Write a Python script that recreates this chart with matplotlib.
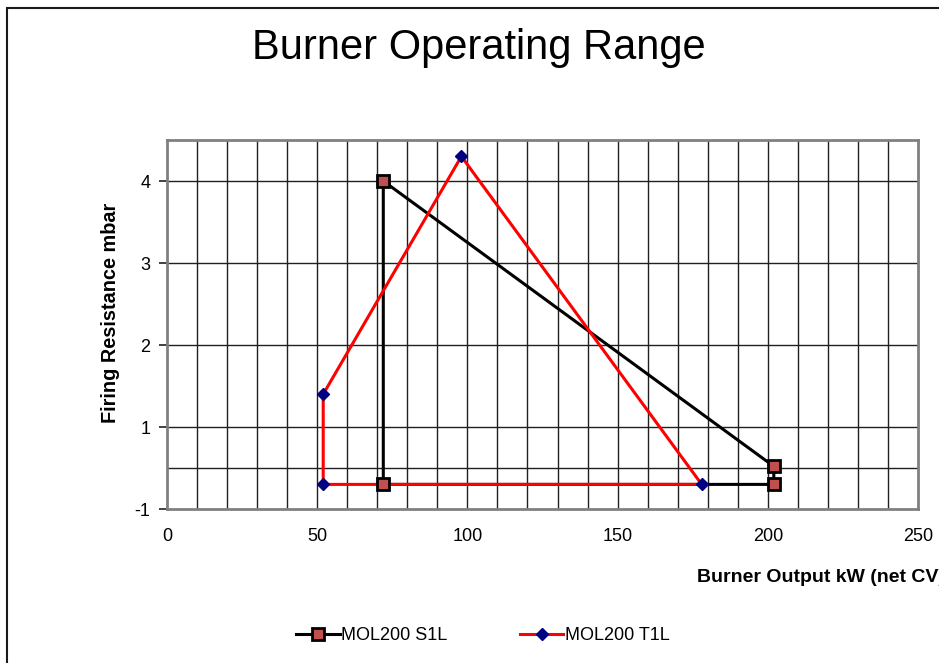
import matplotlib.pyplot as plt
from matplotlib.patches import Rectangle

plt.rcParams['font.family'] = ['Liberation Sans', 'DejaVu Sans']

# MOL200 S1L outline (kW, mbar)
s1l_x = [72, 72, 202, 202, 72]
s1l_y = [4.0, 0.3, 0.3, 0.52, 4.0]

# MOL200 T1L outline
t1l_x = [52, 98, 178, 52, 52]
t1l_y = [1.4, 4.3, 0.3, 0.3, 1.4]

y_ticks = [0, 1, 2, 3, 4]
y_tick_labels = ['-1', '1', '2', '3', '4']
x_ticks = [0, 50, 100, 150, 200, 250]
x_grid = list(range(10, 250, 10))
y_grid = [0.5, 1, 2, 3, 4]

fig = plt.figure(figsize=(9.39, 6.63), dpi=100)
fig.patches.append(Rectangle((7 / 939, -0.01), 1.0, 1 - 8 / 663 + 0.01,
                             transform=fig.transFigure, fill=False,
                             edgecolor='#1a1a1a', linewidth=1.5))

ax = fig.add_axes([167 / 939, 1 - 509 / 663, 751 / 939, 369 / 663])

for gx in x_grid:
    ax.axvline(gx, color='#202020', linewidth=1.0, zorder=1)
for gy in y_grid:
    ax.axhline(gy, color='#202020', linewidth=1.0, zorder=1)

ax.plot(s1l_x, s1l_y, color='black', linewidth=2.2, zorder=2)
ax.plot(t1l_x, t1l_y, color='#ff0000', linewidth=2.2, zorder=3)
ax.plot(s1l_x[:-1], s1l_y[:-1], linestyle='none', marker='s', markersize=8,
        markerfacecolor='#c0504d', markeredgecolor='black', markeredgewidth=2, zorder=4)
ax.plot(t1l_x[:-1], t1l_y[:-1], linestyle='none', marker='D', markersize=6.5,
        markerfacecolor='#000080', markeredgecolor='#000080', zorder=5)

# legend handles
h1, = ax.plot([], [], color='black', linewidth=2.2, marker='s', markersize=8,
              markerfacecolor='#c0504d', markeredgecolor='black', markeredgewidth=2,
              label='MOL200 S1L')
h2, = ax.plot([], [], color='#ff0000', linewidth=2.2, marker='D', markersize=6.5,
              markerfacecolor='#000080', markeredgecolor='#000080',
              label='MOL200 T1L')

ax.set_xlim(0, 250)
ax.set_ylim(0, 4.5)
ax.set_xticks(x_ticks)
ax.set_yticks(y_ticks)
ax.set_yticklabels(y_tick_labels)
ax.tick_params(axis='x', length=0, pad=14, labelsize=13)
ax.tick_params(axis='y', length=6, width=1.2, color='#202020', pad=6, labelsize=13)
for sp in ax.spines.values():
    sp.set_color('#808080')
    sp.set_linewidth(2)

fig.text(110 / 939, 1 - 313 / 663, 'Firing Resistance mbar', fontsize=14.3,
         fontweight='bold', rotation=90, ha='center', va='center')
# the original axis title runs off the right edge of the chart
fig.text(697 / 939, 1 - 578 / 663, 'Burner Output kW (net CV)', fontsize=14,
         fontweight='bold', ha='left', va='center')
fig.text(479 / 939, 1 - 59 / 663, 'Burner Operating Range', fontsize=30,
         ha='center', va='baseline')

fig.legend(handles=[h1, h2], loc='center', bbox_to_anchor=(483 / 939, 1 - 636 / 663),
           ncol=2, frameon=False, fontsize=13, handlelength=2.4,
           handletextpad=0.1, columnspacing=4.0)

fig.savefig('out.png', dpi=100)
